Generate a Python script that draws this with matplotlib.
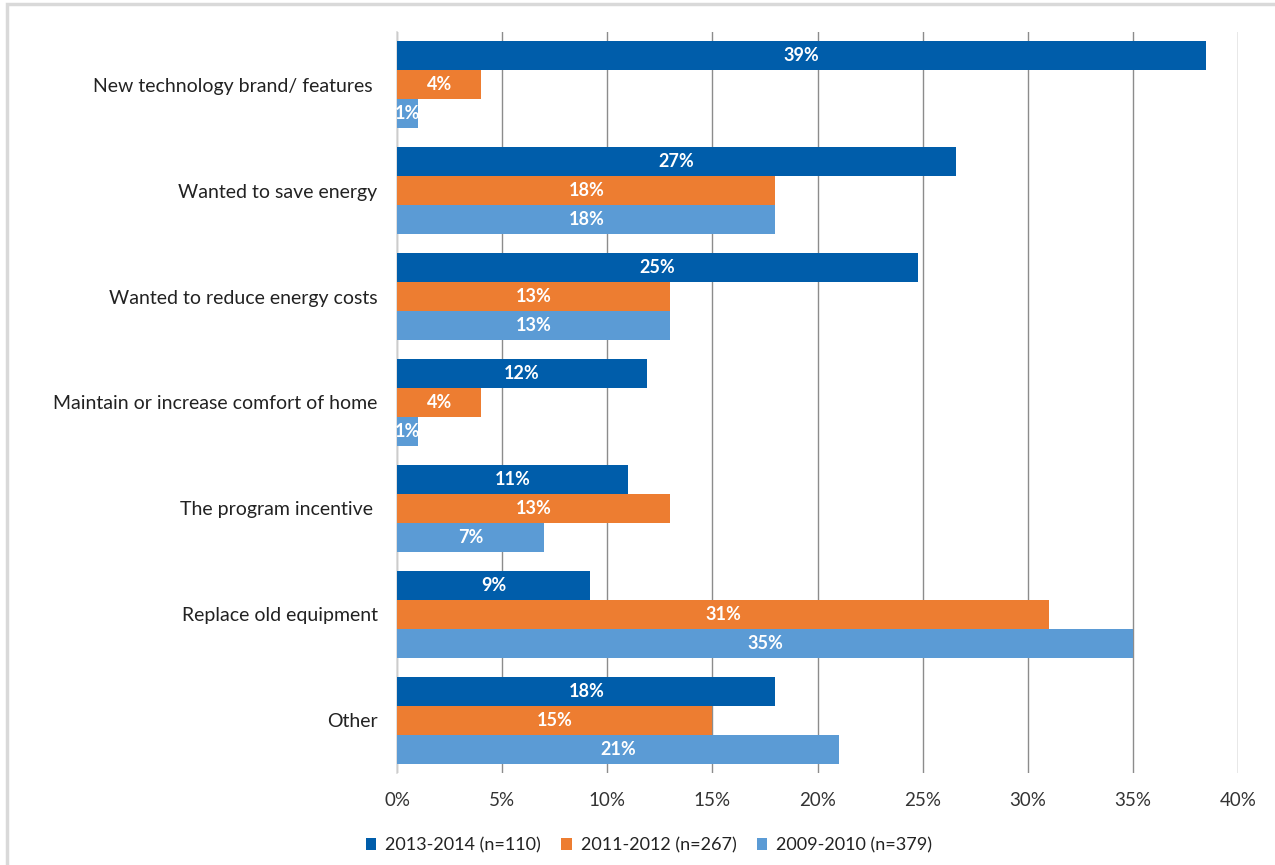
import numpy as np
import matplotlib.pyplot as plt
from matplotlib.patches import Rectangle
from matplotlib.ticker import PercentFormatter

plt.rcParams['font.family'] = ['Lato', 'DejaVu Sans']

categories = ['New technology brand/ features ', 'Wanted to save energy',
              'Wanted to reduce energy costs', 'Maintain or increase comfort of home',
              'The program incentive ', 'Replace old equipment', 'Other']
series = ['2013-2014 (n=110)', '2011-2012 (n=267)', '2009-2010 (n=379)']
v2013 = [38.5, 26.6, 24.8, 11.9, 11.0, 9.2, 18.0]
v2011 = [4.0, 18.0, 13.0, 4.0, 13.0, 31.0, 15.0]
v2009 = [1.0, 18.0, 13.0, 1.0, 7.0, 35.0, 21.0]
shown = [[39, 27, 25, 12, 11, 9, 18],
         [4, 18, 13, 4, 13, 31, 15],
         [1, 18, 13, 1, 7, 35, 21]]
colors = ['#005DAA', '#ED7D31', '#5B9BD5']

fig = plt.figure(figsize=(12.75, 8.65), dpi=100)
ax = fig.add_axes([0.3114, 0.1064, 0.6596, 0.8566])

# chart frame
fig.patches.append(Rectangle((7/1275, -0.1), 1.2, (865-4)/865 + 0.1, transform=fig.transFigure,
                             fill=False, edgecolor='#d9d9d9', lw=2.5, zorder=0))

y = np.arange(len(categories))
h = 0.274
for i, (vals, col) in enumerate(zip([v2013, v2011, v2009], colors)):
    pos = y + (i - 1) * h
    bars = ax.barh(pos, vals, height=h, color=col, label=series[i], zorder=3)
    for b, s in zip(bars, shown[i]):
        ax.text(b.get_width() / 2, b.get_y() + b.get_height() / 2, f'{s}%',
                ha='center', va='center', color='white', fontsize=13,
                fontweight='bold', zorder=4)

ax.set_ylim(len(categories) - 0.5, -0.5)
ax.set_xlim(0, 40)
ax.set_xticks(range(0, 41, 5))
ax.xaxis.set_major_formatter(PercentFormatter(decimals=0))
ax.set_yticks(y)
ax.set_yticklabels(categories)
ax.tick_params(axis='y', length=0, pad=14, labelsize=14, labelcolor='#222222')
ax.tick_params(axis='x', length=0, pad=14, labelsize=13.5, labelcolor='#333333')
ax.grid(axis='x', color='#8c8c8c', lw=1, zorder=1)
for s in ['top', 'right', 'bottom']:
    ax.spines[s].set_visible(False)
ax.spines['left'].set_color('#d9d9d9')
ax.spines['left'].set_linewidth(1.2)

leg = fig.legend(loc='center', bbox_to_anchor=(0.509, 0.023), ncol=3, frameon=False,
                 fontsize=13, handlelength=0.6, handleheight=0.6, handletextpad=0.5,
                 columnspacing=1.1)
for t in leg.get_texts():
    t.set_color('#222222')

fig.savefig('out.png', dpi=100)
